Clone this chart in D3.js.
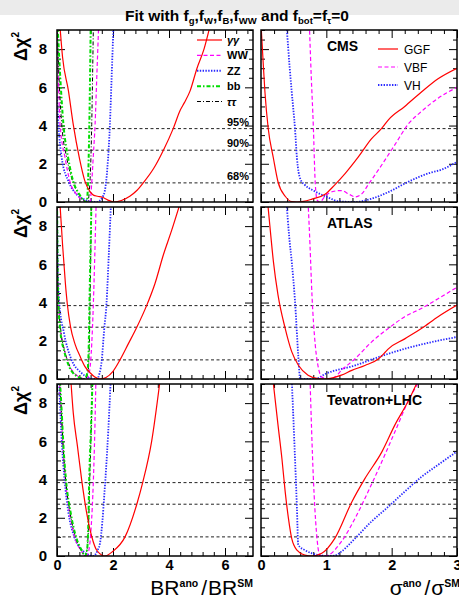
<!DOCTYPE html>
<html>
<head>
<meta charset="utf-8">
<script src="https://cdn.jsdelivr.net/npm/d3@7/dist/d3.min.js"></script>
<style>
  html, body { margin: 0; padding: 0; background: #fff; }
  svg { display: block; font-family: "Liberation Sans", Arial, Helvetica, sans-serif; }
</style>
</head>
<body>
<script>
// ---- Axis ticks and labels ----
const brTicks = [0, 2, 4, 6];
const sigmaTicks = [0, 1, 2, 3];
const chi2Ticks = [0, 2, 4, 6, 8];
const clLevels = [1.0, 2.71, 3.84];
const clLabels = ["68%", "90%", "95%"];
const experiments = ["CMS", "ATLAS", "Tevatron+LHC"];
const decayChannels = ["γγ", "WW", "ZZ", "bb", "ττ"];
const productionModes = ["GGF", "VBF", "VH"];

// ---- Δχ² vs BR^ano/BR^SM, [ratio, Δχ²] ----
const cmsGamGam = [[0.10,9.3],[0.2,7.56],[0.41,5.8],[0.58,4.06],[0.8,2.3],[1.0,1.08],[1.18,0.54],[1.3,0.36],[1.45,0.3],[1.62,0.25],[1.82,0.1],[2.05,0],[2.3,0.08],[2.6,0.3],[2.85,0.6],[3.08,1.0],[3.45,1.75],[3.8,2.71],[4.15,3.84],[4.4,4.8],[4.55,5.2],[4.75,5.8],[5.0,7.0],[5.25,8.0],[5.48,9.3]];
const cmsWW     = [[0.0,9.3],[0.04,7.0],[0.11,4.06],[0.29,2.3],[0.46,1.08],[0.7,0.4],[0.95,0.08],[1.18,0],[1.24,1.0],[1.3,2.5],[1.36,4.06],[1.42,6.5],[1.49,9.3]];
const cmsZZ     = [[0.0,5.5],[0.05,4.06],[0.17,2.3],[0.41,1.08],[0.7,0.4],[1.0,0.12],[1.2,0.02],[1.42,0],[1.6,0.2],[1.71,0.6],[1.8,1.8],[1.89,4.06],[1.95,6.5],[2.02,9.3]];
const cmsBB     = [[0.02,9.3],[0.11,6.7],[0.23,4.06],[0.4,2.3],[0.58,1.08],[0.8,0.4],[0.95,0.08],[1.06,0],[1.08,0.18],[1.1,0.72],[1.12,1.6],[1.14,2.9],[1.16,4.5],[1.18,6.5],[1.205,9.3]];
const cmsTauTau = [[0.01,9.3],[0.06,7.0],[0.17,4.06],[0.35,2.3],[0.56,1.08],[0.78,0.4],[0.95,0.08],[1.1,0],[1.15,0.5],[1.2,1.8],[1.24,4.06],[1.27,6.5],[1.3,9.3]];

const atlasGamGam = [[0.1,9.3],[0.2,7.0],[0.3,5.0],[0.37,3.9],[0.48,2.75],[0.65,1.8],[0.82,1.2],[1.0,0.65],[1.2,0.3],[1.35,0.1],[1.54,0],[1.75,0.08],[2.0,0.4],[2.25,1.0],[2.55,1.85],[2.85,2.71],[3.2,3.84],[3.5,5.0],[3.8,6.5],[4.1,7.8],[4.42,9.3]];
const atlasWW     = [[0.0,9.3],[0.02,6.0],[0.06,4.0],[0.13,2.5],[0.25,1.6],[0.45,0.7],[0.75,0.15],[1.05,0],[1.15,0.3],[1.22,1.3],[1.3,4.0],[1.35,6.5],[1.4,9.3]];
const atlasZZ     = [[0.0,9.3],[0.02,6.5],[0.08,4.0],[0.25,2.4],[0.52,1.0],[0.85,0.35],[1.15,0.06],[1.42,0],[1.52,0.3],[1.6,1.0],[1.68,2.5],[1.77,4.0],[1.85,6.5],[1.93,9.3]];
const atlasBB     = [[0.0,9.3],[0.02,6.0],[0.05,4.0],[0.12,2.5],[0.25,1.5],[0.45,0.6],[0.7,0.15],[0.98,0],[1.08,0.3],[1.13,1.5],[1.16,4.0],[1.2,7.0],[1.23,9.3]];
const atlasTauTau = [[0.0,9.3],[0.02,6.0],[0.06,4.0],[0.14,2.5],[0.27,1.5],[0.47,0.6],[0.72,0.15],[1.0,0],[1.1,0.3],[1.15,1.5],[1.18,4.0],[1.21,7.0],[1.24,9.3]];

const combGamGam = [[0.49,9.3],[0.58,7.5],[0.73,5.75],[0.88,4.0],[1.06,2.25],[1.24,1.02],[1.42,0.3],[1.71,0],[2.0,0.25],[2.43,1.0],[2.85,2.71],[3.06,3.84],[3.38,6.0],[3.69,9.3]];
const combWW     = [[0.08,9.3],[0.15,7.5],[0.21,5.75],[0.3,4.0],[0.45,2.25],[0.63,1.0],[0.85,0.3],[1.05,0],[1.15,0.4],[1.22,1.5],[1.3,4.0],[1.35,6.5],[1.39,9.3]];
const combZZ     = [[0.07,9.3],[0.12,7.5],[0.18,5.75],[0.27,4.0],[0.41,2.25],[0.62,1.0],[0.9,0.3],[1.3,0],[1.45,0.3],[1.54,0.7],[1.62,1.8],[1.69,3.2],[1.75,4.5],[1.83,6.5],[1.92,9.3]];
const combBB     = [[0.1,9.3],[0.17,7.5],[0.23,5.75],[0.32,4.0],[0.49,2.25],[0.68,1.0],[0.88,0.3],[1.0,0],[1.08,0.4],[1.12,1.8],[1.15,4.0],[1.21,6.5],[1.27,9.3]];
const combTauTau = [[0.09,9.3],[0.16,7.5],[0.22,5.75],[0.31,4.0],[0.47,2.25],[0.66,1.0],[0.86,0.3],[1.0,0],[1.08,0.4],[1.13,1.8],[1.17,4.0],[1.22,6.5],[1.27,9.3]];

// ---- Δχ² vs σ^ano/σ^SM, [ratio, Δχ²] ----
const cmsGGF = [[0.0,9.3],[0.03,7.5],[0.06,5.77],[0.11,3.86],[0.19,2.29],[0.26,1.06],[0.37,0.3],[0.47,0.02],[0.55,0],[0.65,0.03],[0.78,0.15],[0.98,0.4],[1.13,0.9],[1.29,1.5],[1.49,2.36],[1.69,3.3],[1.85,3.86],[1.95,4.3],[2.2,5.0],[2.46,5.77],[2.71,6.45],[3.0,7.0]];
const cmsVBF = [[0.74,9.3],[0.77,6.5],[0.8,4.06],[0.83,1.0],[0.86,0.1],[0.9,0],[0.98,0.3],[1.1,0.55],[1.23,0.6],[1.35,0.4],[1.44,0.27],[1.55,0.45],[1.64,0.9],[1.85,1.95],[2.05,3.0],[2.25,4.06],[2.46,4.75],[2.71,5.43],[3.0,6.0]];
const cmsVH  = [[0.39,9.3],[0.44,7.0],[0.47,5.77],[0.52,3.86],[0.55,2.3],[0.6,1.22],[0.67,0.9],[0.8,0.6],[0.93,0.38],[1.05,0.2],[1.18,0.04],[1.44,0],[1.69,0.17],[1.95,0.52],[2.25,1.05],[2.56,1.5],[2.77,1.7],[3.0,2.1]];

const atlasGGF = [[0.1,9.3],[0.15,7.5],[0.19,6.14],[0.26,4.4],[0.37,2.65],[0.47,1.43],[0.57,0.73],[0.72,0.2],[0.88,0.02],[0.96,0],[1.04,0.02],[1.23,0.2],[1.39,0.45],[1.59,0.71],[1.8,1.06],[1.9,1.4],[1.95,1.58],[2.2,2.1],[2.46,2.65],[2.71,3.26],[3.0,3.87]];
const atlasVBF = [[0.72,9.3],[0.75,7.0],[0.78,4.4],[0.83,1.8],[0.88,0.56],[0.93,0.1],[1.03,0],[1.13,0.1],[1.23,0.45],[1.44,1.06],[1.69,1.93],[1.95,2.65],[2.2,3.26],[2.46,3.7],[2.71,4.2],[3.0,4.8]];
const atlasVH  = [[0.39,9.3],[0.43,7.5],[0.47,6.14],[0.52,4.1],[0.57,1.25],[0.6,0],[0.83,0],[0.98,0.26],[1.44,0.71],[1.8,1.15],[2.2,1.58],[2.61,1.93],[3.0,2.2]];

const combGGF = [[0.18,9.3],[0.26,6.86],[0.32,5.1],[0.37,3.37],[0.42,1.97],[0.47,0.92],[0.55,0.31],[0.67,0.05],[0.78,0],[0.93,0.14],[1.13,0.92],[1.39,2.83],[1.59,4.05],[1.85,5.45],[2.05,6.86],[2.25,8.08],[2.42,9.3]];
const combVBF = [[0.75,9.3],[0.8,4.2],[0.85,1.2],[0.9,0.05],[0.95,0],[1.03,0.05],[1.23,0.75],[1.44,1.97],[1.64,3.37],[1.85,4.94],[2.05,6.5],[2.25,8.08],[2.45,9.3]];
const combVH  = [[0.47,9.3],[0.51,6.0],[0.55,2.5],[0.57,0.58],[0.67,0.31],[0.78,0.14],[0.93,0.02],[1.03,0],[1.13,0.02],[1.23,0.23],[1.44,0.92],[1.69,1.8],[1.95,2.58],[2.2,3.37],[2.46,4.15],[2.71,4.77],[3.0,5.47]];

// ---- styles per curve type ----
const styles = {
  "γγ":  { color: "#ff0000", dash: null,        width: 1.2 },
  "WW":  { color: "#ff00ff", dash: "4,2.5",     width: 1.2 },
  "ZZ":  { color: "#2a2aff", dash: "1.4,1.4",   width: 1.8 },
  "bb":  { color: "#00dd00", dash: "4,2,1.5,2", width: 2.0 },
  "ττ":  { color: "#000000", dash: "4,2,1,2",   width: 1.0 },
  "GGF": { color: "#ff0000", dash: null,        width: 1.2 },
  "VBF": { color: "#ff00ff", dash: "4,2.5",     width: 1.2 },
  "VH":  { color: "#2a2aff", dash: "1.4,1.4",   width: 1.8 }
};

const brCurves = [
  [cmsGamGam, cmsWW, cmsZZ, cmsBB, cmsTauTau],
  [atlasGamGam, atlasWW, atlasZZ, atlasBB, atlasTauTau],
  [combGamGam, combWW, combZZ, combBB, combTauTau]
];
const sigmaCurves = [
  [cmsGGF, cmsVBF, cmsVH],
  [atlasGGF, atlasVBF, atlasVH],
  [combGGF, combVBF, combVH]
];
// draw order: underneath first
const brDrawOrder = [2, 1, 4, 3, 0];

const W = 459, H = 598;
const svg = d3.select("body").append("svg").attr("width", W).attr("height", H);

// header band and title
svg.append("rect").attr("x", 0).attr("y", 0).attr("width", W).attr("height", 15).attr("fill", "#ebebeb");
const title = svg.append("text").attr("x", 237).attr("y", 21).attr("text-anchor", "middle")
  .attr("font-size", 15.5).attr("font-weight", "bold").attr("fill", "#000");
const titleParts = [["Fit with f", 0], ["g", 1], [",f", 0], ["W", 1], [",f", 0], ["B", 1], [",f", 0], ["WW", 1],
                    [" and f", 0], ["bot", 1], ["=f", 0], ["τ", 1], ["=0", 0]];
titleParts.forEach(([t, sub], i) => {
  const ts = title.append("tspan").text(t);
  if (sub) ts.attr("font-size", 9.5).attr("dy", 3);
  else if (i > 0 && titleParts[i - 1][1]) ts.attr("dy", -3);
});

const columns = [
  { x0: 57, x1: 253, domain: [0, 7], major: brTicks, minorStep: 0.4 },
  { x0: 261, x1: 457, domain: [0, 3], major: sigmaTicks, minorStep: 0.2 }
];
const rows = [{ y0: 30, y1: 202 }, { y0: 207, y1: 379 }, { y0: 384, y1: 556 }];

const defs = svg.append("defs");

rows.forEach((row, r) => {
  columns.forEach((col, c) => {
    const x = d3.scaleLinear().domain(col.domain).range([col.x0, col.x1]);
    const y = d3.scaleLinear().domain([0, 9]).range([row.y1, row.y0]);
    const g = svg.append("g");
    const clipId = `clip-${r}-${c}`;
    defs.append("clipPath").attr("id", clipId).append("rect")
      .attr("x", col.x0).attr("y", row.y0).attr("width", col.x1 - col.x0).attr("height", row.y1 - row.y0);

    const xMinor = d3.range(col.domain[0], col.domain[1] + 1e-9, col.minorStep).filter(v => !col.major.some(m => Math.abs(m - v) < 1e-6));
    const yMinor = d3.range(0, 9.001, 0.5).filter(v => !chi2Ticks.includes(v));

    // inward ticks on all four sides
    const addAxis = (axis, tf) => {
      const a = g.append("g").attr("transform", tf).call(axis);
      a.select(".domain").remove();
      a.selectAll("line").attr("stroke", "#000").attr("stroke-width", 1);
      return a;
    };
    addAxis(d3.axisBottom(x).tickValues(xMinor).tickSize(-4).tickFormat(""), `translate(0,${row.y1})`);
    addAxis(d3.axisTop(x).tickValues(xMinor).tickSize(-4).tickFormat(""), `translate(0,${row.y0})`);
    addAxis(d3.axisTop(x).tickValues(col.major).tickSize(-8).tickFormat(""), `translate(0,${row.y0})`);
    const xb = addAxis(d3.axisBottom(x).tickValues(col.major).tickSize(-8).tickPadding(4)
      .tickFormat(r === 2 ? d3.format("d") : ""), `translate(0,${row.y1})`);
    xb.selectAll("text").attr("font-size", 14.5).attr("font-weight", "bold").attr("fill", "#000");

    addAxis(d3.axisLeft(y).tickValues(yMinor).tickSize(-4).tickFormat(""), `translate(${col.x0},0)`);
    addAxis(d3.axisRight(y).tickValues(yMinor).tickSize(-4).tickFormat(""), `translate(${col.x1},0)`);
    addAxis(d3.axisRight(y).tickValues(chi2Ticks).tickSize(-8).tickFormat(""), `translate(${col.x1},0)`);
    const yl = addAxis(d3.axisLeft(y).tickValues(chi2Ticks).tickSize(-8).tickPadding(10)
      .tickFormat(c === 0 ? d3.format("d") : ""), `translate(${col.x0},0)`);
    yl.selectAll("text").attr("font-size", 15).attr("font-weight", "bold").attr("fill", "#000");

    // confidence-level reference lines
    g.selectAll("line.cl").data(clLevels).enter().append("line").attr("class", "cl")
      .attr("x1", col.x0).attr("x2", col.x1).attr("y1", d => y(d)).attr("y2", d => y(d))
      .attr("stroke", "#222").attr("stroke-width", 1).attr("stroke-dasharray", "3,2.5");

    // curves
    const line = d3.line().x(d => x(d[0])).y(d => y(d[1])).curve(d3.curveMonotoneX);
    const cg = g.append("g").attr("clip-path", `url(#${clipId})`);
    if (c === 0) {
      brDrawOrder.forEach(k => {
        const s = styles[decayChannels[k]];
        cg.append("path").datum(brCurves[r][k]).attr("d", line).attr("fill", "none")
          .attr("stroke", s.color).attr("stroke-width", s.width).attr("stroke-dasharray", s.dash);
      });
    } else {
      [2, 1, 0].forEach(k => {
        const s = styles[productionModes[k]];
        cg.append("path").datum(sigmaCurves[r][k]).attr("d", line).attr("fill", "none")
          .attr("stroke", s.color).attr("stroke-width", s.width).attr("stroke-dasharray", s.dash);
      });
    }

    // frame
    g.append("rect").attr("x", col.x0).attr("y", row.y0).attr("width", col.x1 - col.x0).attr("height", row.y1 - row.y0)
      .attr("fill", "none").attr("stroke", "#000").attr("stroke-width", 1.5);

    if (c === 0) {
      // Δχ² axis title
      const t = svg.append("text").attr("transform", `translate(27,${row.y0 + 2}) rotate(-90)`)
        .attr("text-anchor", "end").attr("font-size", 18).attr("font-weight", "bold");
      t.append("tspan").text("Δχ");
      t.append("tspan").text("2").attr("font-size", 10).attr("dy", -8);
    } else {
      svg.append("text").attr("x", 327).attr("y", [51, 228, 405][r]).attr("font-size", 14)
        .attr("font-weight", "bold").text(experiments[r]);
    }

    if (r === 0 && c === 0) {
      // decay-channel legend and CL labels
      const lg = svg.append("g");
      const ly = d3.scalePoint().domain(decayChannels).range([40, 101.5]);
      decayChannels.forEach(ch => {
        const s = styles[ch];
        lg.append("line").attr("x1", 197).attr("x2", 222).attr("y1", ly(ch)).attr("y2", ly(ch))
          .attr("stroke", s.color).attr("stroke-width", s.width).attr("stroke-dasharray", s.dash);
        lg.append("text").attr("x", 227).attr("y", ly(ch) + 4).attr("font-size", 11).attr("font-weight", "bold")
          .attr("font-style", ch === "γγ" || ch === "ττ" ? "italic" : "normal").text(ch);
      });
      clLevels.forEach((lv, i) => {
        svg.append("text").attr("x", 249).attr("y", y(lv) - 3).attr("text-anchor", "end")
          .attr("font-size", 11).attr("font-weight", "bold").text(clLabels[i]);
      });
    }
    if (r === 0 && c === 1) {
      const ly = d3.scalePoint().domain(productionModes).range([49, 85]);
      productionModes.forEach(pm => {
        const s = styles[pm];
        svg.append("line").attr("x1", 378).attr("x2", 398).attr("y1", ly(pm)).attr("y2", ly(pm))
          .attr("stroke", s.color).attr("stroke-width", s.width).attr("stroke-dasharray", s.dash);
        svg.append("text").attr("x", 404).attr("y", ly(pm) + 4.5).attr("font-size", 12).text(pm);
      });
    }
  });
});

// x-axis titles
const brTitle = svg.append("text").attr("x", 253).attr("y", 595).attr("text-anchor", "end").attr("font-size", 21);
brTitle.append("tspan").text("BR");
brTitle.append("tspan").text("ano").attr("font-size", 10.5).attr("font-weight", "bold").attr("dy", -8);
brTitle.append("tspan").text("/").attr("dy", 8).attr("dx", 3);
brTitle.append("tspan").text("BR").attr("dx", 1);
brTitle.append("tspan").text("SM").attr("font-size", 10.5).attr("font-weight", "bold").attr("dy", -8);

const sgTitle = svg.append("text").attr("x", 460).attr("y", 595).attr("text-anchor", "end").attr("font-size", 21);
sgTitle.append("tspan").text("σ");
sgTitle.append("tspan").text("ano").attr("font-size", 10.5).attr("font-weight", "bold").attr("dy", -8);
sgTitle.append("tspan").text("/").attr("dy", 8).attr("dx", 3);
sgTitle.append("tspan").text("σ").attr("dx", 1);
sgTitle.append("tspan").text("SM").attr("font-size", 10.5).attr("font-weight", "bold").attr("dy", -8);
</script>
</body>
</html>
